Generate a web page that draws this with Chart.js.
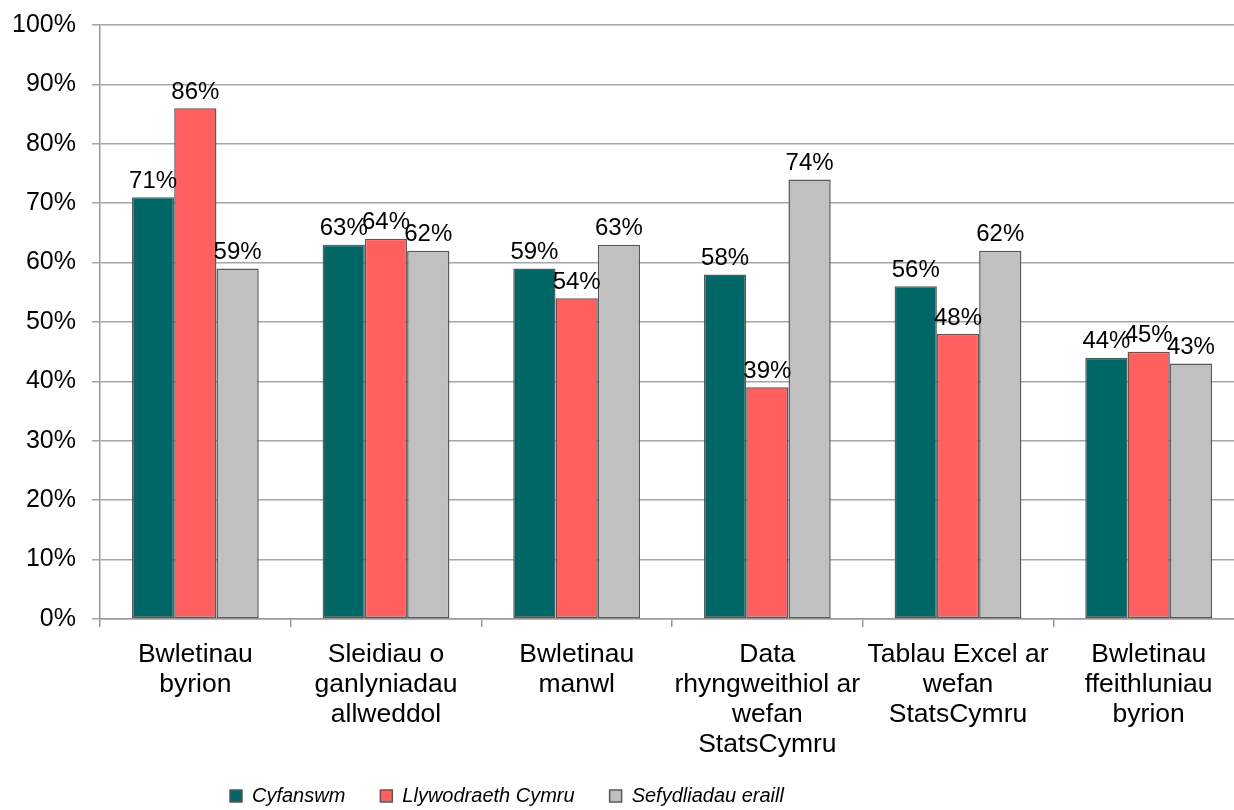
<!DOCTYPE html>
<html>
<head>
<meta charset="utf-8">
<script src="https://cdn.jsdelivr.net/npm/chart.js@4.4.1/dist/chart.umd.min.js"></script>
<style>
  html, body { margin: 0; padding: 0; background: #fff; overflow: hidden; }
  #wrap { width: 1254px; height: 810px; position: relative; }
</style>
</head>
<body>
<div id="wrap"><canvas id="barChart"></canvas></div>
<script>
// categories (already wrapped the way the source chart wraps them)
const categories = [
  ['Bwletinau', 'byrion'],
  ['Sleidiau o', 'ganlyniadau', 'allweddol'],
  ['Bwletinau', 'manwl'],
  ['Data', 'rhyngweithiol ar', 'wefan', 'StatsCymru'],
  ['Tablau Excel ar', 'wefan', 'StatsCymru'],
  ['Bwletinau', 'ffeithluniau', 'byrion']
];

const seriesNames = ['Cyfanswm', 'Llywodraeth Cymru', 'Sefydliadau eraill'];
const cyfanswm = [71, 63, 59, 58, 56, 44];
const llywodraeth = [86, 64, 54, 39, 48, 45];
const sefydliadau = [59, 62, 63, 74, 62, 43];

const yTicks = [0, 10, 20, 30, 40, 50, 60, 70, 80, 90, 100];

const colors = ['#006666', '#ff5f5f', '#c0c0c0'];
const FONT = "'Liberation Sans', Arial, sans-serif";

document.addEventListener('DOMContentLoaded', () => {
  const canvas = document.getElementById('barChart');
  canvas.width = 1254;
  canvas.height = 810;
  const ctx = canvas.getContext('2d');

  // value labels on top of every bar
  const valueLabels = {
    id: 'valueLabels',
    afterDatasetsDraw(chart) {
      const c = chart.ctx;
      c.save();
      c.font = '24px ' + FONT;
      c.fillStyle = '#000';
      c.textAlign = 'center';
      c.textBaseline = 'bottom';
      chart.data.datasets.forEach((ds, i) => {
        chart.getDatasetMeta(i).data.forEach((bar, j) => {
          c.fillText(ds.data[j] + '%', bar.x, bar.y - 4);
        });
      });
      c.restore();
    }
  };

  // legend sits left of centre and a bit lower in the source;
  // the category labels run down past the axis box, so let them
  const legendNudge = {
    id: 'legendNudge',
    afterLayout(chart) {
      const lg = chart.legend;
      if (lg) {
        lg.left += 195;
        lg.right += 195;
        lg.top += 6;
        lg.bottom += 6;
      }
      chart.scales.x.bottom = chart.height;
    }
  };

  new Chart(ctx, {
    type: 'bar',
    data: {
      labels: categories,
      datasets: [
        { label: seriesNames[0], data: cyfanswm, backgroundColor: colors[0] },
        { label: seriesNames[1], data: llywodraeth, backgroundColor: colors[1] },
        { label: seriesNames[2], data: sefydliadau, backgroundColor: colors[2] }
      ].map(d => Object.assign(d, {
        borderColor: '#595959',
        borderWidth: 1.5,
        borderSkipped: false,
        categoryPercentage: 0.665,
        barPercentage: 1
      }))
    },
    options: {
      responsive: false,
      animation: false,
      devicePixelRatio: 1,
      layout: { padding: { top: 25, right: 10, left: 0, bottom: 0 } },
      plugins: {
        tooltip: { enabled: false },
        legend: {
          position: 'bottom',
          align: 'start',
          labels: {
            boxWidth: 12,
            boxHeight: 12,
            padding: 35,
            color: '#000',
            font: { family: FONT, size: 20, style: 'italic' }
          }
        }
      },
      scales: {
        x: {
          afterFit: s => { s.height = 126; },
          grid: {
            offset: true,
            drawOnChartArea: false,
            drawTicks: true,
            tickLength: 8,
            color: '#999',
            lineWidth: 1.5
          },
          border: { color: '#999', width: 1.5 },
          ticks: {
            color: '#000',
            padding: 13,
            maxRotation: 0,
            autoSkip: false,
            font: { family: FONT, size: 26.5, lineHeight: 30 / 26.5 }
          }
        },
        y: {
          min: 0,
          max: 100,
          afterFit: s => { s.width = 100; },
          afterBuildTicks: s => { s.ticks = yTicks.map(v => ({ value: v })); },
          grid: { color: '#a6a6a6', lineWidth: 1.5, tickLength: 8 },
          border: { color: '#999', width: 1.5 },
          ticks: {
            color: '#000',
            padding: 16,
            font: { family: FONT, size: 25, lineHeight: 0.7 },
            callback: v => v + '%'
          }
        }
      }
    },
    plugins: [valueLabels, legendNudge]
  });
});
</script>
</body>
</html>
